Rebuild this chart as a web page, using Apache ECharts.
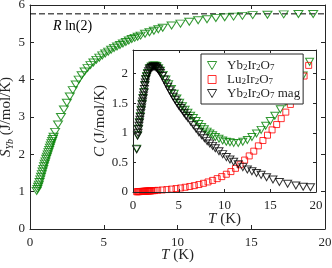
<!DOCTYPE html>
<html><head><meta charset="utf-8">
<script src="https://cdn.jsdelivr.net/npm/echarts@6/dist/echarts.min.js"></script>
<style>html,body{margin:0;padding:0;background:#fff}#c{width:332px;height:268px}</style>
</head><body><div id="c"></div>
<script>
// ---- data ----
const entropyT = [0.45,0.5,0.55,0.6,0.65,0.7,0.75,0.8,0.85,0.9,0.95,1.0,1.05,1.1,1.15,1.2,1.25,1.3,1.35,1.4,1.45,1.5,1.55,1.6,
  1.7,1.9,2.1,2.3,2.5,2.7,2.9,3.1,3.3,3.5,3.7,3.9,4.1,4.3,4.5,4.7,4.9,5.1,5.3,5.5,5.7,5.9,6.1,6.3,6.5,6.7,6.9,7.1,7.3,7.5,
  7.8,8.1,8.4,8.7,9.0,9.6,10.2,10.8,11.4,12.0,12.6,13.2,13.8,14.4,15.1,16.1,17.2,18.2,19.2];
const entropyS = [1.02,1.07,1.13,1.19,1.26,1.33,1.40,1.47,1.54,1.61,1.68,1.75,1.81,1.88,1.94,2.0,2.06,2.12,2.18,2.24,2.30,2.36,2.41,2.47,
  2.6,2.8,3.0,3.2,3.38,3.55,3.72,3.87,4.0,4.12,4.22,4.31,4.39,4.46,4.53,4.59,4.65,4.7,4.75,4.8,4.85,4.89,4.93,4.97,5.01,5.05,5.09,5.12,5.15,5.18,
  5.23,5.27,5.31,5.35,5.39,5.45,5.5,5.55,5.59,5.62,5.65,5.67,5.69,5.71,5.73,5.74,5.75,5.76,5.76];
const rln2 = 5.763;
const rln2T = [0, 20];

const ybT = [0.4,0.5,0.6,0.7,0.8,0.9,1.0,1.1,1.2,1.3,1.4,1.5,1.6,1.8,2.0,2.2,2.4,2.6,2.8,3.0,3.3,3.6,3.9,4.2,4.5,4.8,5.1,5.4,5.7,6.0,6.3,6.6,6.9,7.2,7.5,7.8,8.1,8.4,8.7,9.0,9.4,9.8,10.2,10.6,11.0,11.5,12.0,12.5,13.0,13.5,14.0,14.5,15.0,15.5,16.1,16.7,17.3,17.9,18.6,19.3];
const ybC = [0.73,0.96,1.07,1.18,1.28,1.39,1.49,1.59,1.69,1.81,1.91,1.96,2.01,2.09,2.12,2.14,2.14,2.13,2.09,2.05,1.98,1.9,1.82,1.74,1.66,1.58,1.51,1.45,1.39,1.34,1.29,1.25,1.2,1.15,1.1,1.06,1.02,0.99,0.96,0.93,0.9,0.87,0.85,0.84,0.83,0.83,0.85,0.88,0.93,0.99,1.05,1.12,1.2,1.29,1.4,1.52,1.65,1.8,1.97,2.2];

const luT = [0.4,0.5,0.6,0.7,0.8,0.9,1.0,1.1,1.2,1.3,1.4,1.5,1.6,1.7,1.8,1.9,2.0,2.2,2.4,2.7,3.2,3.7,4.2,4.7,5.2,5.7,6.2,6.7,7.2,7.7,8.2,8.7,9.2,9.7,10.2,10.7,11.2,11.7,12.2,12.7,13.2,13.7,14.2,14.7,15.2,15.7,16.2,16.7,17.2,17.7,18.2,18.7,19.2];
const luC = [0.004,0.005,0.006,0.007,0.008,0.009,0.010,0.011,0.012,0.013,0.014,0.015,0.016,0.017,0.018,0.019,0.020,0.022,0.024,0.028,0.034,0.041,0.049,0.058,0.068,0.08,0.093,0.108,0.126,0.147,0.17,0.196,0.226,0.26,0.3,0.345,0.4,0.46,0.54,0.61,0.69,0.78,0.87,0.96,1.05,1.14,1.24,1.35,1.48,1.63,1.8,1.96,2.14];

const magT = [0.4,0.5,0.55,0.6,0.65,0.7,0.75,0.8,0.85,0.9,0.95,1.0,1.05,1.1,1.15,1.2,1.25,1.3,1.35,1.4,1.5,1.6,1.7,1.8,1.9,2.0,2.1,2.2,2.3,2.4,2.5,2.6,2.7,2.8,2.9,3.0,3.2,3.4,3.6,3.8,4.0,4.2,4.4,4.6,4.8,5.0,5.2,5.4,5.6,5.8,6.0,6.3,6.6,6.9,7.2,7.5,7.8,8.1,8.4,8.7,9.0,9.4,9.8,10.2,10.6,11.0,11.5,12.0,12.5,13.0,13.5,14.0,14.6,15.3,16.0,16.9,17.8,18.6,19.4];
const magC = [0.72,0.95,1.0,1.06,1.12,1.17,1.22,1.27,1.33,1.38,1.43,1.48,1.53,1.58,1.63,1.68,1.74,1.8,1.85,1.9,1.95,2.0,2.04,2.07,2.09,2.1,2.11,2.12,2.12,2.12,2.11,2.1,2.08,2.06,2.04,2.01,1.96,1.9,1.84,1.78,1.72,1.67,1.61,1.56,1.51,1.46,1.42,1.38,1.33,1.29,1.25,1.19,1.13,1.07,1.01,0.96,0.91,0.86,0.82,0.78,0.74,0.69,0.64,0.59,0.55,0.51,0.47,0.42,0.38,0.35,0.32,0.29,0.25,0.21,0.17,0.14,0.11,0.09,0.08];

const seriesNames = ['Yb2Ir2O7', 'Lu2Ir2O7', 'Yb2Ir2O7 mag'];
const mainX = {min: 0, max: 20, step: 5};
const mainY = {min: 0, max: 6, step: 1};
const insetX = {min: 0, max: 20, step: 5};
const insetY = {min: 0, max: 2.4, step: 0.5};

// ---- chart ----
const zip = (a, b) => a.map((v, i) => [v, b[i]]);
const FONT = 'Liberation Serif';
const AX = '#262626';
const GREEN = '#008000', RED = '#ff0000', BLACK = '#000000';
const CLEAR = 'rgba(255,255,255,0)';
const DOWN_TRI = 'path://M0,0L8,0L4,7Z';
const SQUARE = 'path://M0,0L7,0L7,7L0,7Z';
const richName = {
  i: {fontFamily: FONT, fontStyle: 'italic', fontSize: 15, color: AX},
  n: {fontFamily: FONT, fontSize: 15, color: AX},
  sub: {fontFamily: FONT, fontStyle: 'italic', fontSize: 10, color: AX, verticalAlign: 'bottom', padding: [7, 0, 0, 0]}
};

function ax(grid, rng, opt) {
  return Object.assign({
    type: 'value', gridIndex: grid, min: rng.min, max: rng.max, interval: rng.step,
    axisLine: {show: true, onZero: false, lineStyle: {color: AX, width: 1}},
    axisTick: {show: true, inside: true, length: 4, lineStyle: {color: AX}},
    axisLabel: {show: true, fontFamily: FONT, fontSize: 13, color: AX, margin: 7},
    splitLine: {show: false},
    nameMoveOverlap: false
  }, opt);
}
const insetTick = {show: true, inside: true, length: 3, lineStyle: {color: AX}};

const option = {
  animation: false,
  backgroundColor: '#fff',
  grid: [
    {left: 30, top: 5, right: 7, bottom: 39, containLabel: false, outerBoundsMode: 'none'},
    {left: 133, top: 50, right: 16, bottom: 76, show: true, backgroundColor: '#fff', borderWidth: 0, z: 3,
      containLabel: false, outerBoundsMode: 'none'}
  ],
  xAxis: [
    ax(0, mainX, {position: 'bottom', name: '{i|T}{n| (K)}', nameLocation: 'middle', nameGap: 19,
      nameTextStyle: {rich: richName}}),
    ax(0, mainX, {position: 'top', axisLabel: {show: false}}),
    ax(1, insetX, {position: 'bottom', z: 7, name: '{i|T}{n| (K)}', nameLocation: 'middle', nameGap: 20,
      nameTextStyle: {rich: richName}, axisTick: insetTick,
      axisLabel: {show: true, fontFamily: FONT, fontSize: 13, color: AX, margin: 7}}),
    ax(1, insetX, {position: 'top', z: 7, axisLabel: {show: false}, axisTick: insetTick})
  ],
  yAxis: [
    ax(0, mainY, {position: 'left', name: '{i|S}{sub|Yb}{n| (J/mol/K)}', nameLocation: 'middle', nameGap: 15, nameRotate: 90,
      nameTextStyle: {rich: richName}, axisLabel: {show: true, fontFamily: FONT, fontSize: 13, color: AX, margin: 5}}),
    ax(0, mainY, {position: 'right', axisLabel: {show: false}}),
    ax(1, insetY, {position: 'left', z: 7, name: '{i|C}{n| (J/mol/K)}', nameLocation: 'middle', nameGap: 25, nameRotate: 90,
      nameTextStyle: {rich: richName}, axisTick: insetTick,
      axisLabel: {show: true, fontFamily: FONT, fontSize: 13, color: AX, margin: 5, showMaxLabel: false}}),
    ax(1, insetY, {position: 'right', z: 7, axisLabel: {show: false}, axisTick: insetTick})
  ],
  legend: {
    data: [
      {name: seriesNames[0], icon: DOWN_TRI, itemStyle: {color: CLEAR, borderColor: GREEN, borderWidth: 1}},
      {name: seriesNames[1], icon: SQUARE, itemStyle: {color: CLEAR, borderColor: RED, borderWidth: 1}},
      {name: seriesNames[2], icon: DOWN_TRI, itemStyle: {color: CLEAR, borderColor: BLACK, borderWidth: 1}}
    ],
    orient: 'vertical', left: 201, top: 54,
    padding: [4, 3, 4, 6], itemWidth: 20, itemHeight: 8, itemGap: 0,
    backgroundColor: '#fff', borderColor: AX, borderWidth: 1, z: 10,
    formatter: function (name) {
      return name.replace(/([A-Za-z ]+)/g, '{n|$1}').replace(/(\d)/g, '{s|$1}');
    },
    textStyle: {
      fontFamily: FONT, fontSize: 13, color: AX,
      rich: {
        n: {fontFamily: FONT, fontSize: 13, color: AX, lineHeight: 13, verticalAlign: 'top'},
        s: {fontFamily: FONT, fontSize: 9, color: AX, lineHeight: 9, padding: [5, 0, 0, 0], verticalAlign: 'bottom'}
      }
    }
  },
  graphic: [{
    type: 'text', left: 53, top: 19, z: 5,
    style: {text: '{i|R} {n|ln(2)}', rich: {
      i: {fontFamily: FONT, fontStyle: 'italic', fontSize: 14, fill: '#000'},
      n: {fontFamily: FONT, fontSize: 14, fill: '#000'}
    }}
  }],
  series: [
    {type: 'line', xAxisIndex: 0, yAxisIndex: 0, data: rln2T.map(t => [t, rln2]), symbol: 'none', silent: true,
      lineStyle: {color: '#000', width: 1, type: [6, 3]}, z: 1},
    {type: 'scatter', name: 'S', xAxisIndex: 0, yAxisIndex: 0, data: zip(entropyT, entropyS),
      symbol: 'triangle', symbolRotate: 180, symbolSize: [9, 7],
      itemStyle: {color: CLEAR, borderColor: GREEN, borderWidth: 1}, z: 2},
    {type: 'scatter', name: seriesNames[0], xAxisIndex: 2, yAxisIndex: 2, data: zip(ybT, ybC),
      symbol: 'triangle', symbolRotate: 180, symbolSize: [8, 7],
      itemStyle: {color: CLEAR, borderColor: GREEN, borderWidth: 1}, z: 4},
    {type: 'scatter', name: seriesNames[1], xAxisIndex: 2, yAxisIndex: 2, data: zip(luT, luC),
      symbol: 'rect', symbolSize: 6,
      itemStyle: {color: CLEAR, borderColor: RED, borderWidth: 1}, z: 5},
    {type: 'scatter', name: seriesNames[2], xAxisIndex: 2, yAxisIndex: 2, data: zip(magT, magC),
      symbol: 'triangle', symbolRotate: 180, symbolSize: [8, 7],
      itemStyle: {color: CLEAR, borderColor: BLACK, borderWidth: 1}, z: 6}
  ]
};
const chart = echarts.init(document.getElementById('c'), null, {renderer: 'canvas'});
chart.setOption(option);
</script>
</body></html>
